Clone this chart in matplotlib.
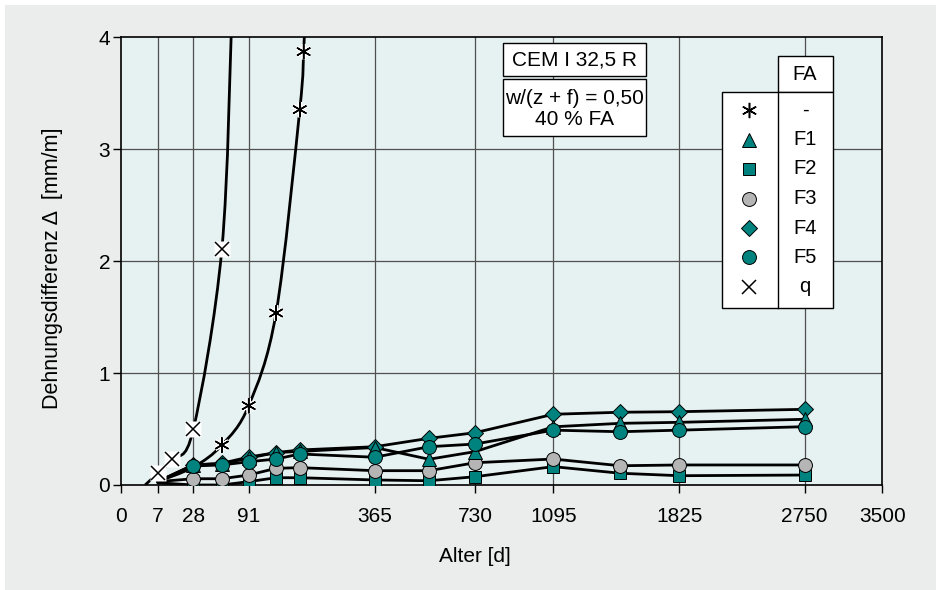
import numpy as np
import matplotlib
matplotlib.use("Agg")
import matplotlib.pyplot as plt
import matplotlib.patheffects as pe
from matplotlib.patches import Rectangle, PathPatch
from matplotlib.lines import Line2D
from matplotlib.path import Path
from matplotlib.transforms import IdentityTransform

plt.rcParams['font.family'] = ['Liberation Sans', 'DejaVu Sans']

# x axis: age in days, drawn on a stretched (root-like) scale
tick_days = [0, 7, 28, 91, 365, 730, 1095, 1825, 2750, 3500]
tick_pos = [0, 36.4, 72, 127.4, 253.4, 353.7, 432, 558, 683.4, 761]

# measured series (age in days, strain difference in mm/m)
age = [7, 28, 56, 91, 135, 180, 365, 547, 730, 1095, 1460, 1825, 2750]
f1 = [0.03, 0.18, 0.19, 0.24, 0.29, 0.30, 0.335, 0.23, 0.298, 0.52, 0.551, 0.56, 0.587]
f2 = [0.02, 0.0, 0.0, 0.03, 0.065, 0.065, 0.045, 0.038, 0.074, 0.164, 0.105, 0.083, 0.089]
f3 = [0.03, 0.056, 0.056, 0.089, 0.149, 0.155, 0.128, 0.128, 0.199, 0.232, 0.172, 0.179, 0.179]
f4 = [0.03, 0.179, 0.194, 0.25, 0.289, 0.313, 0.342, 0.417, 0.467, 0.632, 0.650, 0.655, 0.676]
f5 = [0.03, 0.17, 0.179, 0.208, 0.232, 0.277, 0.248, 0.342, 0.366, 0.49, 0.476, 0.49, 0.521]

age_none = [7, 28, 56, 91, 135, 180, 188, 190]
none_fa = [0.03, 0.16, 0.357, 0.709, 1.537, 3.354, 3.872, 4.1]

age_q = [3, 7, 14, 28, 56, 68]
q = [0.0, 0.105, 0.23, 0.496, 2.11, 4.2]

teal = '#00837e'
grey = '#b5b5b5'
fs = 15


def fwd(x):
    x = np.sqrt(np.clip(np.asarray(x, dtype=float), 0, None))
    return np.interp(x, np.sqrt(tick_days), tick_pos)


def inv(p):
    return np.interp(p, tick_pos, np.sqrt(tick_days)) ** 2


def fx(px):
    return px / 936


def fy(py):
    return 1 - py / 590


def smooth_line(ax, xs, ys, **kw):
    # catmull-rom curve through the points, built as bezier path in display space
    p = ax.transData.transform(np.column_stack([xs, ys]))
    ext = np.vstack([p[0], p, p[-1]])
    verts = [p[0]]
    codes = [Path.MOVETO]
    for i in range(1, len(ext) - 2):
        p0, p1, p2, p3 = ext[i - 1], ext[i], ext[i + 1], ext[i + 2]
        verts += [p1 + (p2 - p0) / 6, p2 - (p3 - p1) / 6, p2]
        codes += [Path.CURVE4] * 3
    ax.add_artist(PathPatch(Path(verts, codes), fill=False, transform=IdentityTransform(), **kw))


fig = plt.figure(figsize=(9.36, 5.9), dpi=100, facecolor='white')
fig.add_artist(Rectangle((fx(5), 0), 1, fy(5), transform=fig.transFigure,
                         facecolor='#ebecec', edgecolor='none', zorder=-10))

ax = fig.add_axes([fx(121.3), fy(485), fx(882.3) - fx(121.3), fy(37.3) - fy(485)])
ax.set_facecolor('#e6f1f1')
ax.set_xscale('function', functions=(fwd, inv))
ax.set_xlim(0, 3500)
ax.set_ylim(0, 4)
ax.set_xticks(tick_days)
ax.set_xticklabels([str(d) for d in tick_days])
ax.set_yticks([0, 1, 2, 3, 4])
ax.tick_params(direction='out', length=6, width=1, labelsize=fs)
ax.tick_params(axis='x', pad=10)
ax.tick_params(axis='y', pad=2)
ax.minorticks_off()
for s in ax.spines.values():
    s.set_linewidth(1.2)

for d in tick_days[1:-1]:
    ax.axvline(d, color='#505050', lw=0.9, zorder=1)
for v in [1, 2, 3]:
    ax.axhline(v, color='#505050', lw=0.9, zorder=1)

lw = 2.0
for ys in [f2, f3, f1, f5, f4]:
    ax.plot(age, ys, color='black', lw=lw, zorder=3, solid_capstyle='round')
smooth_line(ax, age_none, none_fa, edgecolor='black', lw=lw, zorder=3)
smooth_line(ax, age_q, q, edgecolor='black', lw=lw, zorder=3)

mk = dict(ls='none', markeredgecolor='black', markeredgewidth=0.7, markevery=slice(1, None))
ax.plot(age, f2, marker='s', ms=9, markerfacecolor=teal, zorder=4, **mk)
ax.plot(age, f3, marker='o', ms=10, markerfacecolor=grey, zorder=5, **mk)
ax.plot(age, f4, marker='D', ms=8.5, markerfacecolor=teal, zorder=4, **mk)
ax.plot(age, f1, marker='^', ms=9.5, markerfacecolor=teal, zorder=5, **mk)
ax.plot(age, f5, marker='o', ms=10, markerfacecolor=teal, zorder=6, **mk)

halo = [pe.withStroke(linewidth=3, foreground='white')]
ax.plot(age_none[2:-1], none_fa[2:-1], ls='none', marker=(6, 2, 0), ms=11,
        markeredgecolor='black', markeredgewidth=1.1, zorder=7, path_effects=halo)
ax.plot(age_q[1:-1], q[1:-1], ls='none', marker='s', ms=11, markerfacecolor='white',
        markeredgecolor='none', zorder=7)
ax.plot(age_q[1:-1], q[1:-1], ls='none', marker='x', ms=10, markeredgecolor='black',
        markeredgewidth=1.1, zorder=8)

fig.text(fx(475), fy(557), 'Alter [d]', ha='center', va='center', fontsize=fs)
fig.text(fx(53), fy(268), 'Dehnungsdifferenz \u0394  [mm/m]', rotation=90,
         ha='center', va='center', fontsize=15.5)


def box(x0, y0, x1, y1):
    fig.add_artist(Rectangle((fx(x0), fy(y1)), fx(x1) - fx(x0), fy(y0) - fy(y1),
                             transform=fig.transFigure, facecolor='white',
                             edgecolor='black', lw=1.0, zorder=20))


# cement / mix boxes
box(503, 43, 646, 76)
box(503, 79, 646, 136)
fig.text(fx(574.5), fy(60), 'CEM I 32,5 R', ha='center', va='center', fontsize=fs, zorder=21)
fig.text(fx(574.5), fy(109), 'w/(z + f) = 0,50\n40 % FA', ha='center', va='center',
         fontsize=fs, linespacing=1.15, zorder=21)

# legend table
box(778, 56, 833, 92)
box(722, 92, 833, 308)
fig.add_artist(Line2D([fx(778), fx(778)], [fy(92), fy(308)], color='black', lw=1.0,
                      transform=fig.transFigure, zorder=21))
fig.text(fx(805), fy(75), 'FA', ha='center', va='center', fontsize=14.5, zorder=21)

leg_labels = ['-', 'F1', 'F2', 'F3', 'F4', 'F5', 'q']
leg_marks = [
    dict(marker=(6, 2, 0), ms=11, markeredgecolor='black', markeredgewidth=1.1),
    dict(marker='^', ms=9.5, markerfacecolor=teal, markeredgecolor='black', markeredgewidth=0.7),
    dict(marker='s', ms=9, markerfacecolor=teal, markeredgecolor='black', markeredgewidth=0.7),
    dict(marker='o', ms=10, markerfacecolor=grey, markeredgecolor='black', markeredgewidth=0.7),
    dict(marker='D', ms=8.5, markerfacecolor=teal, markeredgecolor='black', markeredgewidth=0.7),
    dict(marker='o', ms=10, markerfacecolor=teal, markeredgecolor='black', markeredgewidth=0.7),
    dict(marker='x', ms=10, markeredgecolor='black', markeredgewidth=1.1),
]
for i, (lab, m) in enumerate(zip(leg_labels, leg_marks)):
    row = 110 + 29.5 * i
    fig.add_artist(Line2D([fx(749)], [fy(row)], ls='none', transform=fig.transFigure,
                          zorder=22, **m))
    fig.text(fx(805), fy(row), lab, ha='center', va='center', fontsize=14.5, zorder=22)

fig.savefig('out.png', dpi=100, facecolor=fig.get_facecolor())
